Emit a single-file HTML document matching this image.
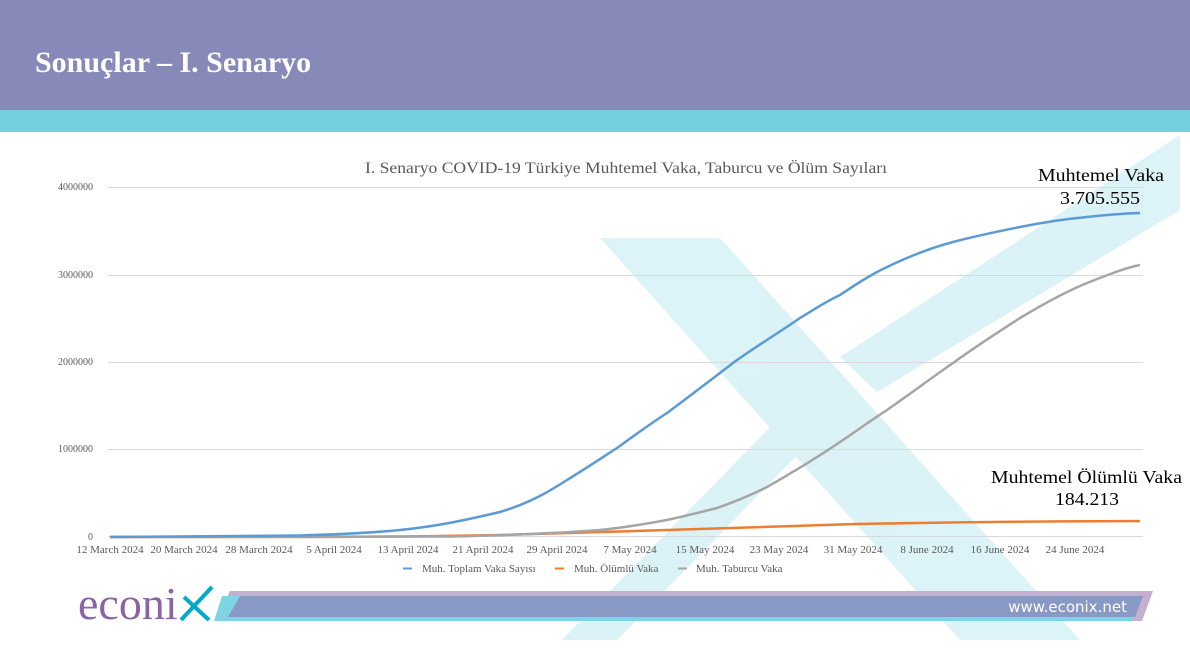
<!DOCTYPE html>
<html><head><meta charset="utf-8"><style>
body{margin:0;width:1190px;height:672px;overflow:hidden;background:#fff;font-family:"Liberation Serif",serif;position:relative}
</style></head><body>
<div style="position:absolute;left:0;top:0;width:1190px;height:110px;background:#8789b8"></div>
<div style="position:absolute;left:0;top:110px;width:1190px;height:22px;background:#74cfe0"></div>
<div style="position:absolute;left:35px;top:46px;color:#fff;font-weight:bold;font-size:30px">Sonuçlar – I. Senaryo</div>
<svg width="1190" height="672" style="position:absolute;left:0;top:0">
<g fill="#74cfe0" opacity="0.25">
<polygon points="600,238 720,238 1080,640 960,640"/>
<polygon points="840,357 1180,135 1180,210 877,392"/>
<polygon points="780,417 807,445 617,640 562,640"/>
</g>
<g stroke="#d9d9d9" stroke-width="1">
<line x1="108" y1="187.5" x2="1143" y2="187.5"/>
<line x1="108" y1="275.5" x2="1143" y2="275.5"/>
<line x1="108" y1="362.5" x2="1143" y2="362.5"/>
<line x1="108" y1="449.5" x2="1143" y2="449.5"/>
<line x1="108" y1="536.5" x2="1143" y2="536.5"/>
</g>
<g font-size="10" fill="#595959" text-anchor="end">
<text x="93" y="190">4000000</text><text x="93" y="278">3000000</text><text x="93" y="365">2000000</text><text x="93" y="452">1000000</text><text x="93" y="540">0</text>
</g>
<g font-size="11" fill="#595959" text-anchor="middle">
<text x="110" y="553">12 March 2024</text><text x="184" y="553">20 March 2024</text><text x="259" y="553">28 March 2024</text><text x="334" y="553">5 April 2024</text><text x="408" y="553">13 April 2024</text><text x="483" y="553">21 April 2024</text><text x="557" y="553">29 April 2024</text><text x="630" y="553">7 May 2024</text><text x="705" y="553">15 May 2024</text><text x="779" y="553">23 May 2024</text><text x="853" y="553">31 May 2024</text><text x="927" y="553">8 June 2024</text><text x="1000" y="553">16 June 2024</text><text x="1075" y="553">24 June 2024</text>
</g>
<text x="365" y="173" font-size="16" fill="#595959" textLength="522" lengthAdjust="spacingAndGlyphs">I. Senaryo COVID-19 Türkiye Muhtemel Vaka, Taburcu ve Ölüm  Sayıları</text>
<g fill="none" stroke-width="2.5" stroke-linejoin="round">
<path stroke="#ed7d31" d="M110,537 L300,537 C400,537 450,536 500,535 C580,533 620,531.5 667,530 C760,527 800,525.5 840,524.5 C920,522.5 1000,521.5 1140,521"/>
<path stroke="#a5a5a5" d="M110,537 L450,536.5 C520,535 560,533 600,530 C630,527 650,523 667,520 C690,515 705,511 717,508 C740,500 755,493 767,487 C795,471 815,459 840,442 C855,432 870,421 887,410 C910,394 930,379 953,363 C975,347 1000,331 1020,318 C1045,303 1065,292 1087,283 C1110,274 1125,268 1140,265"/>
<path stroke="#5b9bd5" d="M110,537 L300,535.5 C350,534 380,532 400,530 C440,526 470,519 500,512 C530,503 550,491 567,480 C585,469 600,459 617,448 C635,435 650,424 667,413 C690,396 712,379 733,363 C755,347 780,332 800,318 C815,309 825,302 840,295 C855,285 870,275 887,267 C910,256 930,248 953,242 C975,236 1000,231 1020,227 C1045,222 1065,219 1087,217 C1105,215 1125,213.5 1140,213"/>
</g>
<g font-size="11" fill="#595959">
<line x1="403" y1="568.5" x2="412" y2="568.5" stroke="#5b9bd5" stroke-width="2"/><text x="422" y="572">Muh. Toplam Vaka Sayısı</text>
<line x1="555" y1="568.5" x2="564" y2="568.5" stroke="#ed7d31" stroke-width="2"/><text x="574" y="572">Muh. Ölümlü Vaka</text>
<line x1="678" y1="568.5" x2="687" y2="568.5" stroke="#a5a5a5" stroke-width="2"/><text x="696" y="572">Muh. Taburcu Vaka</text>
</g>
<g font-size="18" fill="#000">
<text x="1038" y="181" textLength="126" lengthAdjust="spacingAndGlyphs">Muhtemel Vaka</text><text x="1060" y="204" textLength="80" lengthAdjust="spacingAndGlyphs">3.705.555</text>
<text x="991" y="483" textLength="191" lengthAdjust="spacingAndGlyphs">Muhtemel Ölümlü Vaka</text><text x="1055" y="505" textLength="64" lengthAdjust="spacingAndGlyphs">184.213</text>
</g>
<polygon points="230,591 1153,591 1142,621 215,621" fill="#c4afd0"/>
<polygon points="222,596 1140,596 1132,621 214,621" fill="#7fd4e3"/>
<polygon points="240,596 1143,596 1135,617 228,617" fill="#8799c4"/>
<text x="1127" y="612" font-family="DejaVu Sans,sans-serif" font-size="15" fill="#fff" text-anchor="end">www.econix.net</text>
<text x="78" y="619" font-size="46" fill="#8b63a8">econi</text>
<path d="M212,587 L181,620 M184,597 L209,620" stroke="#00aac8" stroke-width="4"/>
</svg>
</body></html>
